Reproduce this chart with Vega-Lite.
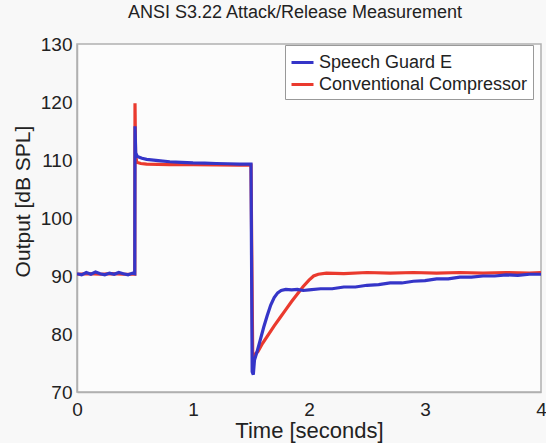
{
  "$schema": "https://vega.github.io/schema/vega-lite/v6.json",
  "autosize": "none",
  "width": 464,
  "height": 348,
  "padding": {"left": 77, "top": 44, "right": 5, "bottom": 51},
  "background": "#f8f8f8",
  "title": {"text": "ANSI S3.22 Attack/Release Measurement", "font": "Liberation Sans", "fontSize": 18, "fontWeight": "normal", "color": "#222", "offset": 13, "dx": -14},
  "config": {
    "view": {"stroke": "#b0b0b0", "strokeWidth": 1.5, "fill": "#fcfcfc"},
    "axis": {"labelFont": "Liberation Sans", "titleFont": "Liberation Sans", "labelColor": "#222", "titleColor": "#222", "titleFontWeight": "normal", "domainColor": "#b0b0b0", "domainWidth": 1.5, "grid": false, "ticks": false},
    "legend": {"labelFont": "Liberation Sans"}
  },
  "data": {"values": [
    {"s": "Speech Guard E", "t": 0, "v": 90.4},
    {"s": "Speech Guard E", "t": 0.04, "v": 90.2},
    {"s": "Speech Guard E", "t": 0.08, "v": 90.6},
    {"s": "Speech Guard E", "t": 0.12, "v": 90.3},
    {"s": "Speech Guard E", "t": 0.16, "v": 90.7},
    {"s": "Speech Guard E", "t": 0.2, "v": 90.4},
    {"s": "Speech Guard E", "t": 0.24, "v": 90.2},
    {"s": "Speech Guard E", "t": 0.28, "v": 90.5},
    {"s": "Speech Guard E", "t": 0.32, "v": 90.3},
    {"s": "Speech Guard E", "t": 0.36, "v": 90.6},
    {"s": "Speech Guard E", "t": 0.4, "v": 90.4},
    {"s": "Speech Guard E", "t": 0.44, "v": 90.2},
    {"s": "Speech Guard E", "t": 0.48, "v": 90.5},
    {"s": "Speech Guard E", "t": 0.498, "v": 90.4},
    {"s": "Speech Guard E", "t": 0.5, "v": 115.8},
    {"s": "Speech Guard E", "t": 0.506, "v": 111.2},
    {"s": "Speech Guard E", "t": 0.52, "v": 110.6},
    {"s": "Speech Guard E", "t": 0.56, "v": 110.3},
    {"s": "Speech Guard E", "t": 0.6, "v": 110.1},
    {"s": "Speech Guard E", "t": 0.7, "v": 109.9},
    {"s": "Speech Guard E", "t": 0.8, "v": 109.7},
    {"s": "Speech Guard E", "t": 0.9, "v": 109.6},
    {"s": "Speech Guard E", "t": 1.0, "v": 109.5},
    {"s": "Speech Guard E", "t": 1.1, "v": 109.45},
    {"s": "Speech Guard E", "t": 1.2, "v": 109.4},
    {"s": "Speech Guard E", "t": 1.3, "v": 109.35},
    {"s": "Speech Guard E", "t": 1.4, "v": 109.3},
    {"s": "Speech Guard E", "t": 1.5, "v": 109.3},
    {"s": "Speech Guard E", "t": 1.51, "v": 73.5},
    {"s": "Speech Guard E", "t": 1.52, "v": 73.0},
    {"s": "Speech Guard E", "t": 1.53, "v": 75.5},
    {"s": "Speech Guard E", "t": 1.55, "v": 76.8},
    {"s": "Speech Guard E", "t": 1.58, "v": 79.0},
    {"s": "Speech Guard E", "t": 1.61, "v": 81.2},
    {"s": "Speech Guard E", "t": 1.64, "v": 83.2},
    {"s": "Speech Guard E", "t": 1.67, "v": 85.0},
    {"s": "Speech Guard E", "t": 1.7, "v": 86.3},
    {"s": "Speech Guard E", "t": 1.73, "v": 87.1},
    {"s": "Speech Guard E", "t": 1.76, "v": 87.5},
    {"s": "Speech Guard E", "t": 1.8, "v": 87.7},
    {"s": "Speech Guard E", "t": 1.85, "v": 87.6},
    {"s": "Speech Guard E", "t": 1.9, "v": 87.7},
    {"s": "Speech Guard E", "t": 1.95, "v": 87.5},
    {"s": "Speech Guard E", "t": 2.0, "v": 87.6},
    {"s": "Speech Guard E", "t": 2.1, "v": 87.8},
    {"s": "Speech Guard E", "t": 2.2, "v": 87.8},
    {"s": "Speech Guard E", "t": 2.3, "v": 88.1},
    {"s": "Speech Guard E", "t": 2.4, "v": 88.1},
    {"s": "Speech Guard E", "t": 2.5, "v": 88.4},
    {"s": "Speech Guard E", "t": 2.6, "v": 88.5},
    {"s": "Speech Guard E", "t": 2.7, "v": 88.8},
    {"s": "Speech Guard E", "t": 2.8, "v": 88.8},
    {"s": "Speech Guard E", "t": 2.9, "v": 89.1},
    {"s": "Speech Guard E", "t": 3.0, "v": 89.2},
    {"s": "Speech Guard E", "t": 3.1, "v": 89.5},
    {"s": "Speech Guard E", "t": 3.2, "v": 89.5},
    {"s": "Speech Guard E", "t": 3.3, "v": 89.8},
    {"s": "Speech Guard E", "t": 3.4, "v": 89.8},
    {"s": "Speech Guard E", "t": 3.5, "v": 90.0},
    {"s": "Speech Guard E", "t": 3.6, "v": 90.0},
    {"s": "Speech Guard E", "t": 3.7, "v": 90.2},
    {"s": "Speech Guard E", "t": 3.8, "v": 90.1},
    {"s": "Speech Guard E", "t": 3.9, "v": 90.3},
    {"s": "Speech Guard E", "t": 4.0, "v": 90.3},
    {"s": "Conventional Compressor", "t": 0, "v": 90.3},
    {"s": "Conventional Compressor", "t": 0.1, "v": 90.4},
    {"s": "Conventional Compressor", "t": 0.2, "v": 90.3},
    {"s": "Conventional Compressor", "t": 0.3, "v": 90.4},
    {"s": "Conventional Compressor", "t": 0.4, "v": 90.3},
    {"s": "Conventional Compressor", "t": 0.498, "v": 90.3},
    {"s": "Conventional Compressor", "t": 0.5, "v": 119.8},
    {"s": "Conventional Compressor", "t": 0.505, "v": 111.0},
    {"s": "Conventional Compressor", "t": 0.515, "v": 109.6},
    {"s": "Conventional Compressor", "t": 0.55, "v": 109.4},
    {"s": "Conventional Compressor", "t": 0.6, "v": 109.3},
    {"s": "Conventional Compressor", "t": 0.8, "v": 109.2},
    {"s": "Conventional Compressor", "t": 1.0, "v": 109.2},
    {"s": "Conventional Compressor", "t": 1.2, "v": 109.15},
    {"s": "Conventional Compressor", "t": 1.4, "v": 109.1},
    {"s": "Conventional Compressor", "t": 1.5, "v": 109.1},
    {"s": "Conventional Compressor", "t": 1.515, "v": 75.8},
    {"s": "Conventional Compressor", "t": 1.53, "v": 76.4},
    {"s": "Conventional Compressor", "t": 1.56, "v": 77.0},
    {"s": "Conventional Compressor", "t": 1.6, "v": 78.4},
    {"s": "Conventional Compressor", "t": 1.65, "v": 79.9},
    {"s": "Conventional Compressor", "t": 1.7, "v": 81.4},
    {"s": "Conventional Compressor", "t": 1.75, "v": 82.8},
    {"s": "Conventional Compressor", "t": 1.8, "v": 84.2},
    {"s": "Conventional Compressor", "t": 1.85, "v": 85.6},
    {"s": "Conventional Compressor", "t": 1.9, "v": 86.9},
    {"s": "Conventional Compressor", "t": 1.95, "v": 88.2},
    {"s": "Conventional Compressor", "t": 2.0, "v": 89.3},
    {"s": "Conventional Compressor", "t": 2.04, "v": 90.0},
    {"s": "Conventional Compressor", "t": 2.08, "v": 90.3},
    {"s": "Conventional Compressor", "t": 2.15, "v": 90.5},
    {"s": "Conventional Compressor", "t": 2.3, "v": 90.4},
    {"s": "Conventional Compressor", "t": 2.5, "v": 90.6},
    {"s": "Conventional Compressor", "t": 2.7, "v": 90.5},
    {"s": "Conventional Compressor", "t": 2.9, "v": 90.6},
    {"s": "Conventional Compressor", "t": 3.1, "v": 90.5},
    {"s": "Conventional Compressor", "t": 3.3, "v": 90.6},
    {"s": "Conventional Compressor", "t": 3.5, "v": 90.5},
    {"s": "Conventional Compressor", "t": 3.7, "v": 90.6},
    {"s": "Conventional Compressor", "t": 3.9, "v": 90.5},
    {"s": "Conventional Compressor", "t": 4.0, "v": 90.6}
  ]},
  "encoding": {
    "x": {"field": "t", "type": "quantitative", "scale": {"domain": [0, 4], "nice": false},
      "axis": {"title": "Time [seconds]", "values": [0, 1, 2, 3, 4], "format": "d", "labelFontSize": 19, "labelPadding": 8, "titleFontSize": 22, "titlePadding": 1, "labelFlush": false}},
    "y": {"field": "v", "type": "quantitative", "scale": {"domain": [70, 130], "nice": false, "zero": false},
      "axis": {"title": "Output [dB SPL]", "values": [70, 80, 90, 100, 110, 120, 130], "labelFontSize": 19, "labelPadding": 5, "titleFontSize": 21, "titleX": -44, "titleY": 157, "labelFlush": false}},
    "color": {"field": "s", "type": "nominal",
      "scale": {"domain": ["Speech Guard E", "Conventional Compressor"], "range": ["#3535c8", "#ea3a2e"]},
      "legend": {"title": null, "orient": "none", "legendX": 208, "legendY": 1, "symbolType": "stroke", "symbolSize": 484, "symbolStrokeWidth": 3, "labelFontSize": 18, "labelLimit": 400, "labelColor": "#222", "labelOffset": 4, "rowPadding": 0, "padding": 5, "fillColor": "#ffffff", "strokeColor": "#999999"}}
  },
  "layer": [
    {"transform": [{"filter": "datum.s === 'Conventional Compressor'"}], "mark": {"type": "line", "strokeWidth": 3.2, "clip": true}},
    {"transform": [{"filter": "datum.s === 'Speech Guard E'"}], "mark": {"type": "line", "strokeWidth": 3.2, "clip": true}}
  ]
}
